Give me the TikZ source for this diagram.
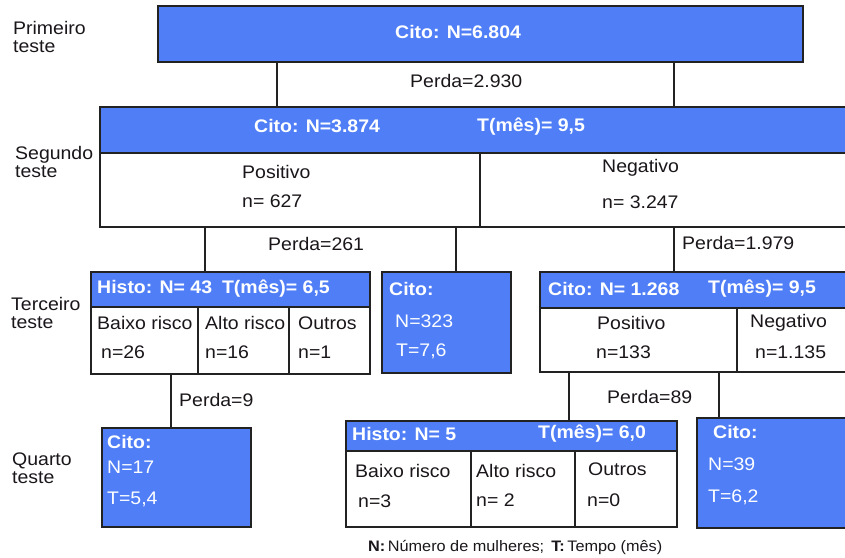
\documentclass[tikz,border=0pt]{standalone}
\usepackage{fontspec}
\setmainfont{Liberation Sans}[FakeStretch=1.07]
\definecolor{citoblue}{RGB}{79,126,247}
\definecolor{edge}{RGB}{34,34,34}
\definecolor{ink}{RGB}{26,22,26}
\begin{document}
\begin{tikzpicture}[x=1pt,y=-1pt,
  cell/.style={draw=edge,line width=1.3pt,anchor=north west,inner sep=0pt,outer sep=0pt},
  bluebox/.style={cell,fill=citoblue},
  whitebox/.style={cell,fill=white},
  hd/.style={anchor=west,inner sep=0pt,text=white,font=\fontsize{18.2}{21}\selectfont\bfseries},
  tx/.style={anchor=west,inner sep=0pt,text=ink,font=\fontsize{18.2}{21}\selectfont},
  lvl/.style={anchor=west,inner sep=0pt,text=ink,align=left,font=\fontsize{18.2}{18.5}\selectfont},
  link/.style={draw=edge,line width=1.3pt}]
\useasboundingbox (0,0) rectangle (845,557);

% ---- level labels ----
\node[lvl] (l1) at (13,37) {Primeiro\\teste};
\node[lvl] (l2) at (15,162) {Segundo\\teste};
\node[lvl] (l3) at (11,313) {Terceiro\\teste};
\node[lvl] (l4) at (12,468) {Quarto\\teste};

% ---- first test ----
\node[bluebox,minimum width=645pt,minimum height=56pt] (top) at (158,6) {};
\node[hd] (topt) at (395,32) {Cito: N=6.804};

% ---- second test ----
\node[bluebox,minimum width=760pt,minimum height=46pt] (h2) at (100,107) {};
\node[whitebox,minimum width=760pt,minimum height=74pt] (b2) at (100,153) {};
\coordinate (d2) at (480,0);
\draw[link] (b2.north -| d2) -- (b2.south -| d2);
\node[hd] (h2a) at (254,126) {Cito: N=3.874};
\node[hd] (h2b) at (477,127) {T(mês)= 9,5};
\node[tx] (p2) at (242,172) {Positivo};
\node[tx] (p2n) at (242,201) {n= 627};
\node[tx] (n2) at (602,168) {Negativo};
\node[tx] (n2n) at (602,202) {n= 3.247};

% ---- third test: histology after positive ----
\node[bluebox,minimum width=279pt,minimum height=35pt] (h3) at (91,272) {};
\node[whitebox,minimum width=279pt,minimum height=67pt] (b3) at (91,307) {};
\coordinate (d3a) at (198,0);
\coordinate (d3b) at (289,0);
\draw[link] (b3.north -| d3a) -- (b3.south -| d3a);
\draw[link] (b3.north -| d3b) -- (b3.south -| d3b);
\node[hd] (h3t) at (97,289) {Histo: N= 43\hspace{10pt}T(mês)= 6,5};
\node[tx] (c3a) at (97,323) {Baixo risco};
\node[tx] (c3an) at (101,352) {n=26};
\node[tx] (c3b) at (205,323) {Alto risco};
\node[tx] (c3bn) at (205,352) {n=16};
\node[tx] (c3c) at (298,323) {Outros};
\node[tx] (c3cn) at (298,352) {n=1};

% ---- third test: cytology after positive ----
\node[bluebox,minimum width=129pt,minimum height=101pt] (cb) at (382,272) {};
\node[hd] (cbt) at (389,289) {Cito:};
\node[tx,text=white] (cbn) at (395,321) {N=323};
\node[tx,text=white] (cbT) at (396,351) {T=7,6};

% ---- third test: cytology after negative ----
\node[bluebox,minimum width=320pt,minimum height=36pt] (hc) at (540,272) {};
\node[whitebox,minimum width=320pt,minimum height=64pt] (bc) at (540,308) {};
\coordinate (dc) at (737,0);
\draw[link] (bc.north -| dc) -- (bc.south -| dc);
\node[hd] (hca) at (548,289) {Cito: N= 1.268};
\node[hd] (hcb) at (708,289) {T(mês)= 9,5};
\node[tx] (pc) at (597,323) {Positivo};
\node[tx] (pcn) at (596,352) {n=133};
\node[tx] (nc) at (750,323) {Negativo};
\node[tx] (ncn) at (755,352) {n=1.135};

% ---- fourth test ----
\node[bluebox,minimum width=149pt,minimum height=99pt] (c17) at (102,428) {};
\node[hd] (c17t) at (107,442) {Cito:};
\node[tx,text=white] (c17n) at (107,467) {N=17};
\node[tx,text=white] (c17T) at (107,499) {T=5,4};

\node[bluebox,minimum width=331pt,minimum height=30pt] (h4) at (346,421) {};
\node[whitebox,minimum width=331pt,minimum height=76pt] (b4) at (346,451) {};
\coordinate (d4a) at (471,0);
\coordinate (d4b) at (575,0);
\draw[link] (b4.north -| d4a) -- (b4.south -| d4a);
\draw[link] (b4.north -| d4b) -- (b4.south -| d4b);
\node[hd] (h4a) at (352,434) {Histo: N= 5};
\node[hd] (h4b) at (538,434) {T(mês)= 6,0};
\node[tx] (c4a) at (355,471) {Baixo risco};
\node[tx] (c4an) at (358,501) {n=3};
\node[tx] (c4b) at (476,471) {Alto risco};
\node[tx] (c4bn) at (476,500) {n= 2};
\node[tx] (c4c) at (588,469) {Outros};
\node[tx] (c4cn) at (587,500) {n=0};

\node[bluebox,minimum width=160pt,minimum height=110pt] (c39) at (697,418) {};
\node[hd] (c39t) at (713,432) {Cito:};
\node[tx,text=white] (c39n) at (708,464) {N=39};
\node[tx,text=white] (c39T) at (708,497) {T=6,2};

% ---- connectors ----
\coordinate (k1) at (277,0);
\coordinate (k2) at (674,0);
\draw[link] (top.south -| k1) -- (h2.north -| k1);
\draw[link] (top.south -| k2) -- (h2.north -| k2);
\node[tx] (loss1) at (410,81) {Perda=2.930};

\coordinate (k3) at (205,0);
\coordinate (k4) at (456,0);
\draw[link] (b2.south -| k3) -- (h3.north -| k3);
\draw[link] (b2.south -| k4) -- (cb.north -| k4);
\draw[link] (b2.south -| k2) -- (hc.north -| k2);
\node[tx] (loss2) at (268,244) {Perda=261};
\node[tx] (loss3) at (682,243) {Perda=1.979};

\coordinate (k5) at (171,0);
\draw[link] (b3.south -| k5) -- (c17.north -| k5);
\node[tx] (loss4) at (179,400) {Perda=9};

\coordinate (k6) at (569,0);
\coordinate (k7) at (719,0);
\draw[link] (bc.south -| k6) -- (h4.north -| k6);
\draw[link] (bc.south -| k7) -- (c39.north -| k7);
\node[tx] (loss5) at (607,397) {Perda=89};

% ---- legend ----
\node[anchor=west,inner sep=0pt,text=ink,font=\fontsize{15.2}{16}\selectfont] (legend) at (368,547)
  {\textbf{N:}\,Número de mulheres;\hspace{7pt}\textbf{T:}\,Tempo (mês)};
\end{tikzpicture}
\end{document}
